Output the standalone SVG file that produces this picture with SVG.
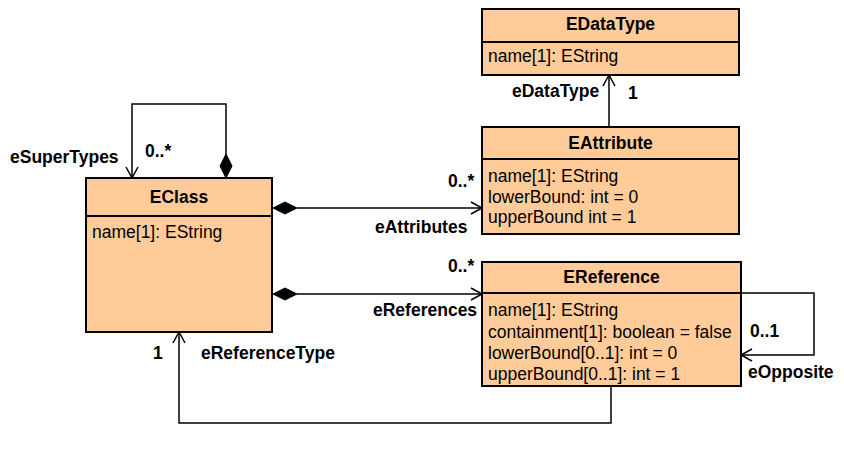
<svg xmlns="http://www.w3.org/2000/svg" width="844" height="450" viewBox="0 0 844 450">
<style>
.box{fill:#FFCC99;stroke:#000;stroke-width:2}
.div{stroke:#000;stroke-width:2}
.t{font-family:"Liberation Sans",Arial,sans-serif;font-size:17.5px;fill:#000}
.h{font-family:"Liberation Sans",Arial,sans-serif;font-size:17.5px;font-weight:bold;fill:#000}
.c{fill:none;stroke:#000;stroke-width:1.5}
.dia{fill:#000;stroke:#000;stroke-width:1}
</style>
<defs>
<marker id="open" markerWidth="14" markerHeight="14" refX="12" refY="7" orient="auto" markerUnits="userSpaceOnUse">
<path d="M1,1 L12,7 L1,13" fill="none" stroke="#000" stroke-width="1.5"/>
</marker>
</defs>
<rect width="844" height="450" fill="#fff"/>
<g id="connectors">
<path class="c" d="M226,155 V104 H132 V178" marker-end="url(#open)"/>
<polygon class="dia" points="226,178 232,166 226,154 220,166"/>
<path class="c" d="M297,208 H482" marker-end="url(#open)"/>
<polygon class="dia" points="273,208 285,202 297,208 285,214"/>
<path class="c" d="M297,294 H482" marker-end="url(#open)"/>
<polygon class="dia" points="273,294 285,288 297,294 285,300"/>
<path class="c" d="M609,127 V75" marker-end="url(#open)"/>
<path class="c" d="M741,293 H814 V355 H741" marker-end="url(#open)"/>
<path class="c" d="M611,386 V423 H179 V332" marker-end="url(#open)"/>
<text class="h" x="10" y="163">eSuperTypes</text>
<text class="h" x="145" y="157">0..*</text>
<text class="h" x="448" y="187">0..*</text>
<text class="h" x="375" y="233">eAttributes</text>
<text class="h" x="448" y="272">0..*</text>
<text class="h" x="373" y="316">eReferences</text>
<text class="h" x="153" y="359">1</text>
<text class="h" x="201" y="359">eReferenceType</text>
<text class="h" x="512" y="97">eDataType</text>
<text class="h" x="628" y="99">1</text>
<text class="h" x="750" y="337">0..1</text>
<text class="h" x="748" y="378">eOpposite</text>
</g>
<g id="EDataType">
<rect class="box" x="482" y="9" width="257" height="66"/>
<line class="div" x1="482" y1="42" x2="739" y2="42"/>
<text class="h" x="610.5" y="30" text-anchor="middle">EDataType</text>
<text class="t" x="488" y="62">name[1]: EString</text>
</g>
<g id="EAttribute">
<rect class="box" x="482" y="127" width="257" height="107"/>
<line class="div" x1="482" y1="159" x2="739" y2="159"/>
<text class="h" x="610.5" y="149" text-anchor="middle">EAttribute</text>
<text class="t" x="488" y="182">name[1]: EString</text>
<text class="t" x="488" y="203">lowerBound: int = 0</text>
<text class="t" x="488" y="223">upperBound int = 1</text>
</g>
<g id="EClass">
<rect class="box" x="86" y="178" width="186" height="154"/>
<line class="div" x1="86" y1="216" x2="272" y2="216"/>
<text class="h" x="179" y="203" text-anchor="middle">EClass</text>
<text class="t" x="92" y="238">name[1]: EString</text>
</g>
<g id="EReference">
<rect class="box" x="482" y="262" width="259" height="124"/>
<line class="div" x1="482" y1="293" x2="741" y2="293"/>
<text class="h" x="611.5" y="283" text-anchor="middle">EReference</text>
<text class="t" x="488" y="316">name[1]: EString</text>
<text class="t" x="488" y="338">containment[1]: boolean = false</text>
<text class="t" x="488" y="359">lowerBound[0..1]: int = 0</text>
<text class="t" x="488" y="380">upperBound[0..1]: int = 1</text>
</g>
</svg>
